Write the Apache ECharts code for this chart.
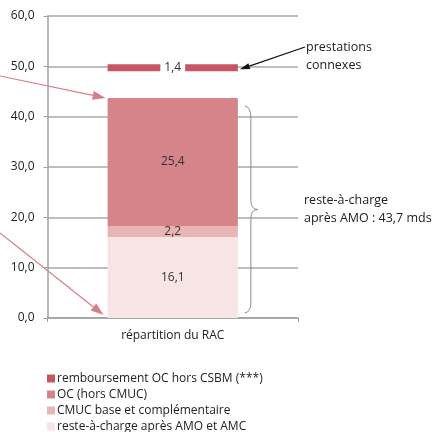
<!DOCTYPE html>
<html>
<head>
<meta charset="utf-8">
<script src="https://cdn.jsdelivr.net/npm/echarts@6/dist/echarts.min.js"></script>
<style>
  html, body { margin: 0; padding: 0; background: #fff; }
  #chart { width: 439px; height: 432px; }
</style>
</head>
<body>
<div id="chart"></div>
<script>
// Répartition du reste-à-charge (milliards d'euros)
const categories = ['répartition du RAC'];
const resteApresAMC = [16.1];
const cmuc = [2.2];
const ocHorsCmuc = [25.4];
const ecart = [5.3];            // espace vide sous les prestations connexes
const remboursementOC = [1.4];
const yTicks = [0, 10, 20, 30, 40, 50, 60];

const FONT = 'Open Sans';
const fmt = v => v.toFixed(1).replace('.', ',');

const chart = echarts.init(document.getElementById('chart'), null, { renderer: 'canvas' });

const labelStyle = {
  show: true, position: 'inside', color: '#333', fontFamily: FONT, fontSize: 12,
  formatter: p => fmt(p.value)
};

const option = {
  animation: false,
  textStyle: { fontFamily: FONT },
  grid: { left: 47.5, right: 141, top: 16, bottom: 114 },
  legend: {
    orient: 'vertical', left: 47, top: 371.5, height: 90, padding: 0,
    itemWidth: 8, itemHeight: 8, itemGap: 2,
    icon: 'rect',
    textStyle: { fontFamily: FONT, fontSize: 12, lineHeight: 14, color: '#222', padding: [0, 0, 0, -3] },
    data: ['remboursement OC hors CSBM (***)', 'OC (hors CMUC)', 'CMUC base et complémentaire', 'reste-à-charge après AMO et AMC']
  },
  xAxis: {
    type: 'category', data: categories,
    axisLine: { lineStyle: { color: '#a0a0a0', width: 1.5 } },
    axisTick: { show: true, length: 4, lineStyle: { color: '#a0a0a0' } },
    axisLabel: { color: '#222', fontFamily: FONT, fontSize: 12, margin: 12 }
  },
  yAxis: {
    type: 'value', min: yTicks[0], max: yTicks[yTicks.length - 1], interval: 10,
    axisLine: { show: true, lineStyle: { color: '#a0a0a0', width: 1.5 } },
    axisTick: { show: true, length: 4, lineStyle: { color: '#a0a0a0' } },
    splitLine: { lineStyle: { color: '#a8a8a8', width: 1.5 } },
    axisLabel: { color: '#222', fontFamily: FONT, fontSize: 12, margin: 13, formatter: v => fmt(v) }
  },
  series: [
    { name: 'reste-à-charge après AMO et AMC', type: 'bar', stack: 'rac', data: resteApresAMC,
      barWidth: '52%', itemStyle: { color: '#f7e5e5' }, label: labelStyle },
    { name: 'CMUC base et complémentaire', type: 'bar', stack: 'rac', data: cmuc,
      itemStyle: { color: '#e8b4b4' }, label: labelStyle },
    { name: 'OC (hors CMUC)', type: 'bar', stack: 'rac', data: ocHorsCmuc,
      itemStyle: { color: '#d5848a' }, label: labelStyle },
    { name: 'ecart', type: 'bar', stack: 'rac', data: ecart, silent: true,
      itemStyle: { color: 'rgba(0,0,0,0)' }, label: { show: false } },
    { name: 'remboursement OC hors CSBM (***)', type: 'bar', stack: 'rac', data: remboursementOC,
      itemStyle: { color: '#c75664' },
      label: Object.assign({}, labelStyle, { backgroundColor: '#fff', padding: [1, 4, 0, 4] }) }
  ]
};
chart.setOption(option);

// Annotations: flèches, accolade et textes
function px(v) { return chart.convertToPixel({ xAxisIndex: 0, yAxisIndex: 0 }, [0, v]); }
const cx = chart.convertToPixel({ xAxisIndex: 0 }, 0);
const barHalf = (cx - 47.5) * 0.52;
const barLeft = cx - barHalf, barRight = cx + barHalf;
const totalRac = resteApresAMC[0] + cmuc[0] + ocHorsCmuc[0];
const yTop = px(totalRac)[1];
const yZero = px(0)[1];
const yConnexes = px(totalRac + ecart[0])[1];

function arrow(x1, y1, x2, y2, color, len, wid, lw) {
  const a = Math.atan2(y2 - y1, x2 - x1);
  const bx = x2 - len * Math.cos(a), by = y2 - len * Math.sin(a);
  const nx = -Math.sin(a) * wid / 2, ny = Math.cos(a) * wid / 2;
  return [
    { type: 'line', shape: { x1: x1, y1: y1, x2: bx, y2: by }, style: { stroke: color, lineWidth: lw }, silent: true },
    { type: 'polygon', shape: { points: [[x2, y2], [bx + nx, by + ny], [bx - nx, by - ny]] }, style: { fill: color }, silent: true }
  ];
}

const pink = '#d77f86';
const bx0 = barRight + 7, bmid = barRight + 13, btip = barRight + 20;
const b1 = yTop + 8, b2 = yZero - 5, bm = (b1 + b2) / 2;
const braceStyle = { stroke: '#8a8a8a', lineWidth: 1, fill: null };
const curve = (x1, y1, cpx, cpy, x2, y2) => ({ type: 'bezierCurve', silent: true,
  shape: { x1: x1, y1: y1, cpx1: cpx, cpy1: cpy, x2: x2, y2: y2 }, style: braceStyle });
const seg = (x1, y1, x2, y2) => ({ type: 'line', silent: true,
  shape: { x1: x1, y1: y1, x2: x2, y2: y2 }, style: braceStyle });
const brace = [
  curve(bx0, b1, bmid, b1 + 1, bmid, b1 + 12),
  seg(bmid, b1 + 12, bmid, bm - 9),
  curve(bmid, bm - 9, bmid, bm, btip, bm),
  curve(btip, bm, bmid, bm, bmid, bm + 9),
  seg(bmid, bm + 9, bmid, b2 - 11),
  curve(bmid, b2 - 11, bmid, b2 - 1, bx0, b2)
];

const txt = (x, y, t) => ({ type: 'text', x: x, y: y, silent: true,
  style: { text: t, fill: '#222', font: `12.5px "${FONT}"`, textVerticalAlign: 'middle', textAlign: 'left' } });

chart.setOption({
  graphic: [].concat(
    arrow(0, 76, barLeft - 2, yTop, pink, 13, 9, 1.2),
    arrow(0, 233, barLeft - 4, yZero - 3, pink, 13, 9, 1.2),
    arrow(305, 47, barRight + 2, yConnexes - 2, '#111', 10, 6, 1.2),
    brace,
    [
      txt(306, 47, 'prestations'),
      txt(306, 65, 'connexes'),
      txt(304, 200, 'reste-à-charge'),
      txt(304, 218, 'après AMO : 43,7 mds')
    ]
  )
});
</script>
</body>
</html>
